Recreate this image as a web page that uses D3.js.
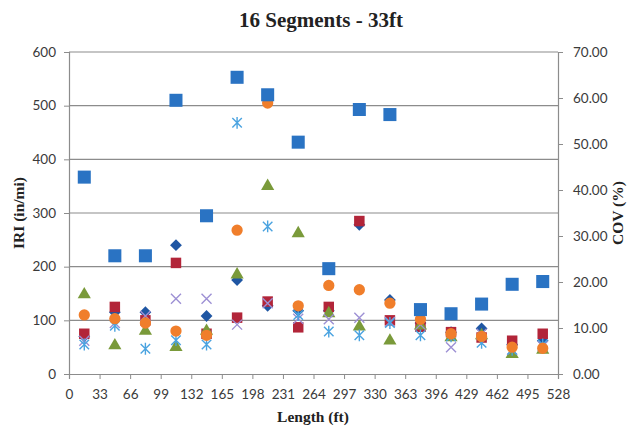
<!DOCTYPE html>
<html>
<head>
<meta charset="utf-8">
<script src="https://cdn.jsdelivr.net/npm/d3@7"></script>
<style>
  body { margin: 0; background: #fff; }
  svg { display: block; }
</style>
</head>
<body>
<div id="chart"></div>
<script>
// segment midpoints (ft)
const lengths = [16.5, 49.5, 82.5, 115.5, 148.5, 181.5, 214.5, 247.5, 280.5, 313.5, 346.5, 379.5, 412.5, 445.5, 478.5, 511.5];

// IRI series (in/mi), left axis
const run1 = [70, 115, 115, 240, 108, 175, 127, 118, 118, 278, 138, 95, 78, 85, 55, 62];   // diamonds
const run2 = [75, 125, 100, 207, 75, 105, 135, 87, 125, 285, 100, 88, 78, 68, 62, 75];     // red squares
const run3 = [148, 53, 80, 50, 80, 185, 350, 262, 113, 88, 62, 90, 68, 72, 37, 45];        // triangles
const run4 = [62, 95, 108, 140, 140, 92, 132, 103, 102, 105, 97, 92, 50, 75, 45, 52];      // crosses
const run5 = [55, 90, 47, 63, 55, 468, 275, 110, 79, 72, 95, 72, 70, 58, 45, 55];          // stars
const run6 = [110, 103, 95, 80, 72, 268, 505, 127, 165, 157, 132, 102, 75, 70, 50, 48];    // circles

// COV (%), right axis
const cov = [42.8, 25.7, 25.7, 59.5, 34.4, 64.5, 60.7, 50.4, 22.9, 57.5, 56.4, 14.0, 13.1, 15.2, 19.5, 20.1];

const xTicks = d3.range(0, 529, 33);
const iriTicks = [0, 100, 200, 300, 400, 500, 600];
const covTicks = [0, 10, 20, 30, 40, 50, 60, 70];

const width = 632, height = 433;
const margin = { top: 52, right: 74, bottom: 59, left: 69 };

const svg = d3.select("#chart").append("svg")
  .attr("width", width)
  .attr("height", height);

const x = d3.scaleLinear().domain([0, 528]).range([margin.left, width - margin.right]);
const yL = d3.scaleLinear().domain([0, 600]).range([height - margin.bottom, margin.top]);
const yR = d3.scaleLinear().domain([0, 70]).range([height - margin.bottom, margin.top]);

const gridColor = "#8c8c8c";
const tickFont = "Lato, 'Open Sans', sans-serif";
const serif = "'Liberation Serif', 'DejaVu Serif', serif";

// gridlines
svg.append("g")
  .selectAll("line")
  .data(iriTicks.slice(1))
  .join("line")
  .attr("x1", x(0)).attr("x2", x(528))
  .attr("y1", d => yL(d)).attr("y2", d => yL(d))
  .attr("stroke", gridColor)
  .attr("stroke-width", 1.2);

// axes
const xAxis = svg.append("g")
  .attr("transform", `translate(0,${yL(0)})`)
  .call(d3.axisBottom(x).tickValues(xTicks).tickSize(5).tickPadding(10));

const leftAxis = svg.append("g")
  .attr("transform", `translate(${x(0)},0)`)
  .call(d3.axisLeft(yL).tickValues(iriTicks).tickSize(5).tickPadding(8));

const rightAxis = svg.append("g")
  .attr("transform", `translate(${x(528)},0)`)
  .call(d3.axisRight(yR).tickValues(covTicks).tickFormat(d3.format(".2f")).tickSize(5).tickPadding(10));

[xAxis, leftAxis, rightAxis].forEach(g => {
  g.select(".domain").attr("stroke", gridColor).attr("stroke-width", 1.2);
  g.selectAll(".tick line").attr("stroke", gridColor);
  g.selectAll(".tick text")
    .attr("fill", "#3a3a3a")
    .style("font-family", tickFont)
    .style("font-size", "13.5px");
});

// title and axis labels
svg.append("text")
  .attr("x", 321).attr("y", 27)
  .attr("text-anchor", "middle")
  .style("font-family", serif)
  .style("font-weight", "bold")
  .style("font-size", "21px")
  .attr("fill", "#222")
  .text("16 Segments - 33ft");

svg.append("text")
  .attr("x", 313).attr("y", 422)
  .attr("text-anchor", "middle")
  .style("font-family", serif)
  .style("font-weight", "bold")
  .style("font-size", "15.5px")
  .attr("fill", "#222")
  .text("Length (ft)");

svg.append("text")
  .attr("transform", `translate(24,${(yL(0) + yL(600)) / 2}) rotate(-90)`)
  .attr("text-anchor", "middle")
  .style("font-family", serif)
  .style("font-weight", "bold")
  .style("font-size", "15.5px")
  .attr("fill", "#222")
  .text("IRI (in/mi)");

svg.append("text")
  .attr("transform", `translate(623,${(yL(0) + yL(600)) / 2}) rotate(-90)`)
  .attr("text-anchor", "middle")
  .style("font-family", serif)
  .style("font-weight", "bold")
  .style("font-size", "15.5px")
  .attr("fill", "#222")
  .text("COV (%)");

// custom marker shapes like the spreadsheet ones
const excelDiamond = {
  draw(ctx, size) {
    const r = Math.sqrt(size / 2);
    ctx.moveTo(0, -r); ctx.lineTo(r, 0); ctx.lineTo(0, r); ctx.lineTo(-r, 0); ctx.closePath();
  }
};
const excelStar = {
  draw(ctx, size) {
    const r = Math.sqrt(size) / 2;
    ctx.moveTo(-r, -r); ctx.lineTo(r, r);
    ctx.moveTo(r, -r); ctx.lineTo(-r, r);
    ctx.moveTo(0, -r * 1.25); ctx.lineTo(0, r * 1.25);
  }
};
const excelX = {
  draw(ctx, size) {
    const r = Math.sqrt(size) / 2;
    ctx.moveTo(-r, -r); ctx.lineTo(r, r);
    ctx.moveTo(r, -r); ctx.lineTo(-r, r);
  }
};

const symbols = {
  diamond: d3.symbol(excelDiamond, 70),
  square: d3.symbol(d3.symbolSquare, 110),
  triangle: d3.symbol(d3.symbolTriangle, 75),
  circle: d3.symbol(d3.symbolCircle, 100),
  bigsquare: d3.symbol(d3.symbolSquare, 170),
  cross: d3.symbol(excelX, 100),
  star: d3.symbol(excelStar, 90)
};

// marker series
const series = [
  { values: run1, y: yL, color: "#1f56a3", shape: "diamond" },
  { values: run2, y: yL, color: "#b22539", shape: "square" },
  { values: run3, y: yL, color: "#7a9a3a", shape: "triangle" },
  { values: run4, y: yL, color: "#9d90d4", shape: "cross" },
  { values: run5, y: yL, color: "#4aa3e0", shape: "star" },
  { values: run6, y: yL, color: "#f07e2b", shape: "circle" },
  { values: cov, y: yR, color: "#2a73c3", shape: "bigsquare" }
];

series.forEach(s => {
  const stroked = s.shape === "cross" || s.shape === "star";
  svg.append("g")
    .selectAll("path")
    .data(s.values.map((v, i) => [lengths[i], v]))
    .join("path")
    .attr("transform", d => `translate(${x(d[0])},${s.y(d[1])})`)
    .attr("d", symbols[s.shape])
    .attr("fill", stroked ? "none" : s.color)
    .attr("stroke", stroked ? s.color : "none")
    .attr("stroke-width", stroked ? 1.4 : 0);
});
</script>
</body>
</html>
